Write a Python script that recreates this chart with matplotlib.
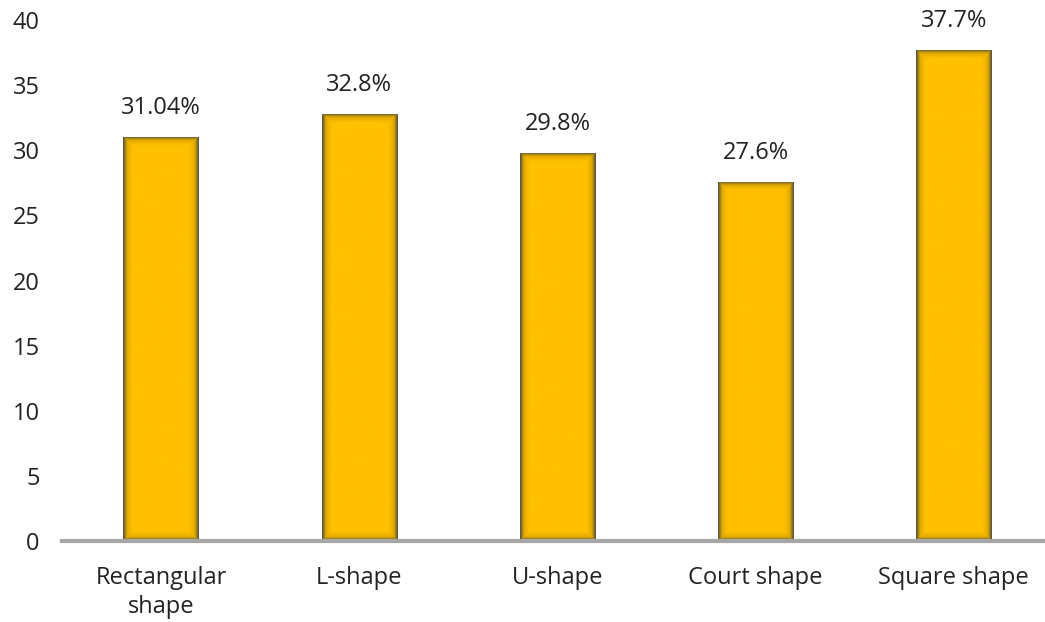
import numpy as np
import matplotlib.pyplot as plt
from matplotlib.colors import LinearSegmentedColormap

categories = ["Rectangular\nshape", "L-shape", "U-shape", "Court shape", "Square shape"]
values = [31.04, 32.8, 29.8, 27.6, 37.7]
labels = ["31.04%", "32.8%", "29.8%", "27.6%", "37.7%"]

plt.rcParams['font.family'] = ['Open Sans', 'DejaVu Sans']

fig = plt.figure(figsize=(10.45, 6.22), dpi=100)
ax = fig.add_axes([62 / 1045, 1 - 541 / 622, 1 - 62 / 1045, (541 - 20) / 622])

x = np.arange(len(categories))
bars = ax.bar(x, values, width=0.38, color='#FFC000', edgecolor='none', zorder=2)

ax.set_xlim(-0.5, 4.46)
ax.set_ylim(0, 40)
ax.set_yticks(range(0, 41, 5))
ax.set_xticks(x)
ax.set_xticklabels(categories, fontsize=17, color='#222222', linespacing=1.3)
ax.tick_params(axis='y', length=0, pad=16, labelsize=17, labelcolor='#222222')
ax.tick_params(axis='x', length=0, pad=18)
for s in ['top', 'right', 'left']:
    ax.spines[s].set_visible(False)
ax.spines['bottom'].set_color('#a6a6a6')
ax.spines['bottom'].set_linewidth(3)
ax.spines['bottom'].set_zorder(3)

# soft dark inner shadow on each bar
cmap = LinearSegmentedColormap.from_list('glow', ['#FFC000', '#E0AA00', '#4a4c44'])
fig.canvas.draw()
for b in bars:
    bb = b.get_window_extent()
    w, h = int(bb.width), int(bb.height)
    xs = np.arange(w) + 0.5
    ys = np.arange(h) + 0.5
    dx = np.minimum(xs, w - xs)
    dy = np.minimum(ys, h - ys)
    d = np.minimum(dx[None, :], dy[:, None])
    glow = np.clip(1 - d / 10.0, 0, 1) ** 1.3
    im = ax.imshow(glow, cmap=cmap, vmin=0, vmax=1, aspect='auto',
                   extent=[b.get_x(), b.get_x() + b.get_width(), 0, b.get_height()],
                   zorder=2.5, interpolation='bilinear')
    im.set_clip_path(b)

for xi, v, lab in zip(x, values, labels):
    ax.annotate(lab, (xi, v), xytext=(0, 12), textcoords='offset points',
                ha='center', va='bottom', fontsize=17, color='#222222')

ax.set_xlim(-0.5, 4.46)
ax.set_ylim(0, 40)

fig.savefig('out.png', dpi=100)
